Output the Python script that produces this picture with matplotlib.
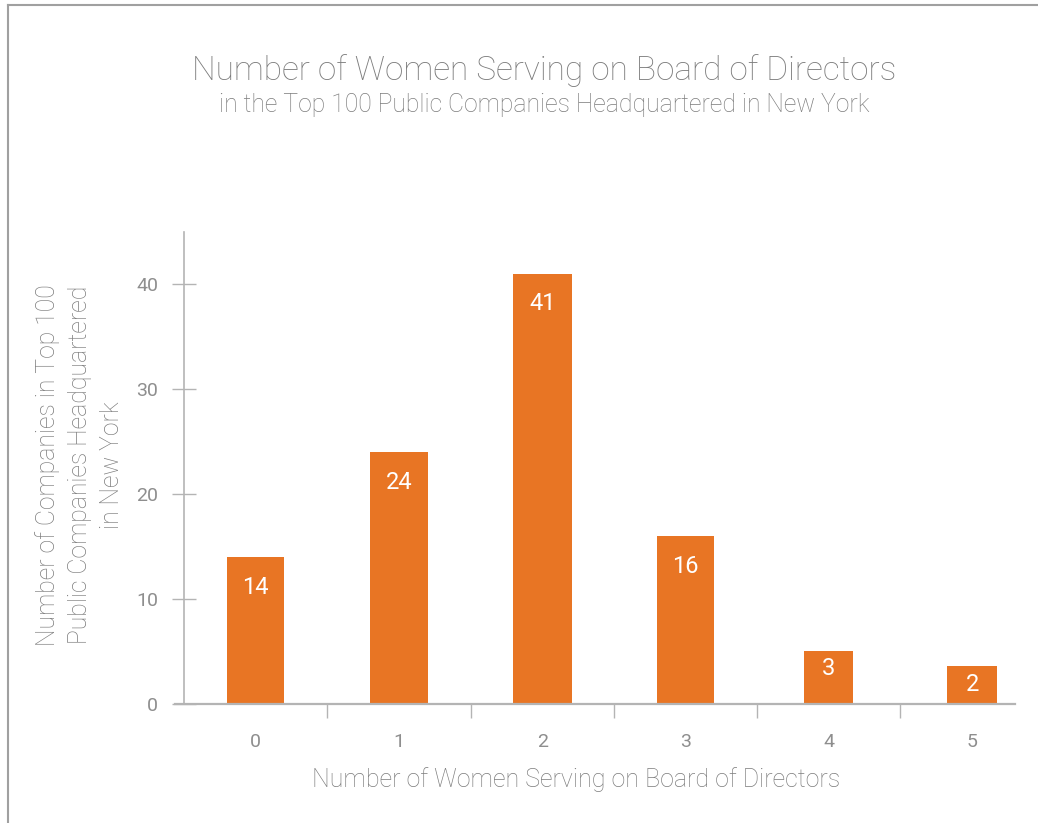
import matplotlib.pyplot as plt
from matplotlib.lines import Line2D

# --- data ---
women_on_board = ["0", "1", "2", "3", "4", "5"]
bar_heights = [14, 24, 41, 16, 5.1, 3.6]
bar_labels = ["14", "24", "41", "16", "3", "2"]
y_ticks = [0, 10, 20, 30, 40]

orange = "#E87524"
grey_txt = "#7c7c7c"
grey_tick = "#8e8e8e"
grey_line = "#b4b4b4"

plt.rcParams["font.family"] = ["Roboto", "DejaVu Sans"]

fig = plt.figure(figsize=(10.38, 8.23), dpi=100)
ax = fig.add_axes([0.1773, 0.1446, 0.8006, 0.5735])

x = list(range(len(women_on_board)))
widths = [0.40, 0.41, 0.41, 0.40, 0.34, 0.35]
bars = ax.bar(x, bar_heights, width=widths, color=orange, zorder=2)

# --- labels inside bars ---
for b, lab in zip(bars, bar_labels):
    h_px = b.get_height() * 10.5
    off = -30 if h_px > 70 else -18
    ax.annotate(lab, (b.get_x() + b.get_width() / 2, b.get_height()),
                xytext=(0, off), textcoords="offset pixels",
                ha="center", va="center", color="white", fontsize=17)

ax.set_xlim(-0.5, 5.3)
ax.set_ylim(0, 45)

# --- axes styling ---
for s in ["top", "right", "bottom"]:
    ax.spines[s].set_visible(False)
ax.spines["left"].set_color(grey_line)
ax.spines["left"].set_linewidth(1.2)
ax.add_line(Line2D([-0.011, 1.0], [0, 0], transform=ax.transAxes,
                   color=grey_line, lw=1.6, clip_on=False, zorder=3))

ax.set_yticks(y_ticks)
ax.tick_params(axis="y", direction="inout", length=17, width=1, color=grey_line,
               labelcolor=grey_tick, labelsize=14, pad=10)
ax.set_xticks([i + 0.5 for i in range(5)])
ax.set_xticklabels([])
ax.tick_params(axis="x", direction="out", length=10, width=1, color=grey_line)
for i, lab in enumerate(women_on_board):
    ax.text(i, -0.08, lab, transform=ax.get_xaxis_transform(), ha="center", va="center",
            color=grey_tick, fontsize=14)

ax.text(0.472, -0.16, "Number of Women Serving on Board of Directors",
        transform=ax.transAxes, ha="center", va="center", color=grey_txt,
        fontsize=18, fontweight="light")
fig.text(0.077, 0.435,
         "Number of Companies in Top 100\nPublic Companies Headquartered\nin New York",
         rotation=90, ha="center", va="center", color=grey_txt, fontsize=17.8,
         fontweight="light", linespacing=1.42)

# --- titles ---
fig.text(0.524, 0.914, "Number of Women Serving on Board of Directors",
         ha="center", va="center", color=grey_txt, fontsize=24, fontweight="light")
fig.text(0.524, 0.873, "in the Top 100 Public Companies Headquartered in New York",
         ha="center", va="center", color=grey_txt, fontsize=17.8, fontweight="light")

# --- frame border (top and left) ---
fig.add_artist(Line2D([0.008, 1.0], [0.994, 0.994], color="#a0a0a0", lw=1.5))
fig.add_artist(Line2D([0.008, 0.008], [0.0, 0.994], color="#a0a0a0", lw=1.5))

plt.savefig("out.png", dpi=100)
